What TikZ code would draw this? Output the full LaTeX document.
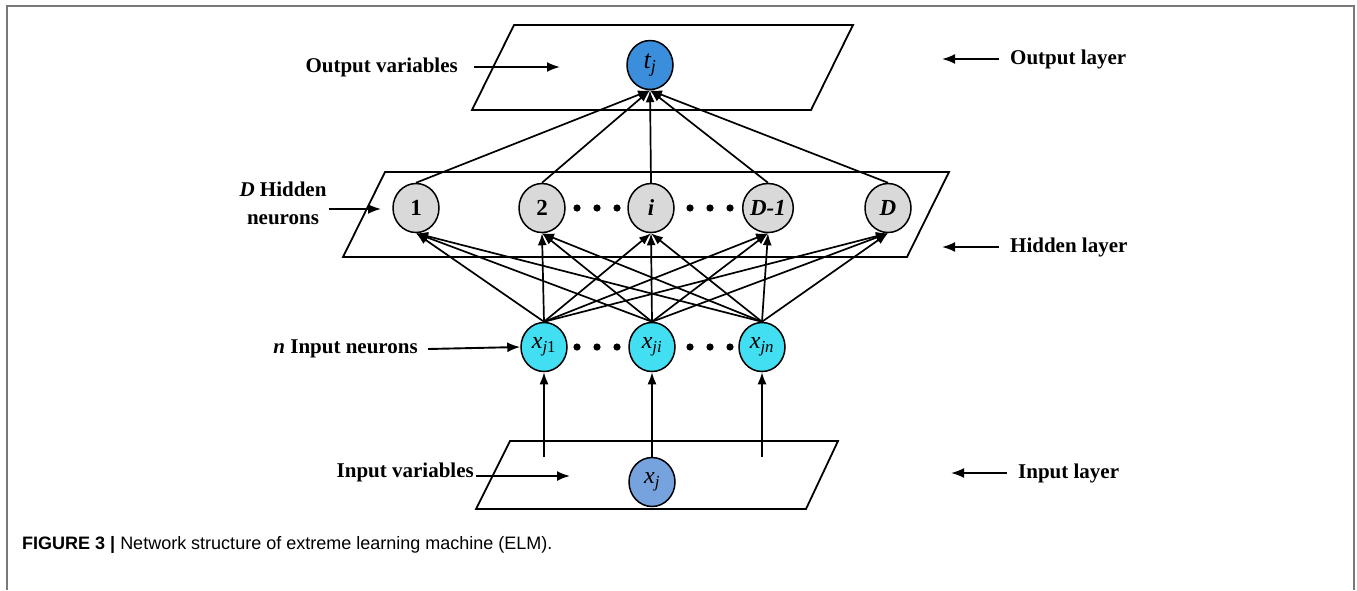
\documentclass[tikz,border=0pt]{standalone}
\usepackage{fontspec}
\setmainfont{Liberation Serif}
\newfontfamily\capfont{Liberation Sans}
\usetikzlibrary{arrows.meta,shapes.geometric}
\definecolor{outblue}{RGB}{59,142,220}
\definecolor{hidgray}{RGB}{217,217,217}
\definecolor{incyan}{RGB}{66,222,242}
\definecolor{varblue}{RGB}{118,163,222}
\definecolor{framegray}{RGB}{120,120,120}
\newcommand{\lblfont}{\fontsize{21}{28}\selectfont}
\newcommand{\neufont}{\fontsize{24}{24}\selectfont\itshape}
\tikzset{
  neuron/.style={draw,ellipse,line width=1.5pt,minimum width=46pt,minimum height=49pt,inner sep=0pt},
  plane/.style={draw,line width=1.8pt,line join=miter},
  link/.style={line width=1.7pt,-{Latex[length=12pt,width=9pt]}},
  pointer/.style={line width=1.9pt,-{Latex[length=13pt,width=10pt]}}
}

\begin{document}
\begin{tikzpicture}[x=1pt,y=-1pt,every node/.style={font=\lblfont\bfseries,inner sep=2pt}]
\useasboundingbox (0,0) rectangle (1357,590);
\draw[framegray,line width=2pt] (7,590) -- (7,6) -- (1354,6) -- (1354,590);

% the three layers
\draw[plane] (514,25) -- (853,25) -- (811,110) -- (472,110) -- cycle;
\draw[plane] (385,172) -- (949,172) -- (907,257) -- (343,257) -- cycle;
\draw[plane] (510,441) -- (838,441) -- (806,509) -- (476,509) -- cycle;

% neurons
\node (tj) at (650,65) [neuron,fill=outblue,font=\fontsize{26}{26}\selectfont\itshape] {t\textsubscript{j}};
\foreach \n/\x/\t in {h1/416/1,h2/542/2,hi/651/\textit{i},hD1/768/\textit{D-1},hD/888/\textit{D}}
  \node (\n) at (\x,208) [neuron,fill=hidgray,font=\fontsize{23}{23}\selectfont\bfseries] {\t};
\node (x1) at (544,347) [neuron,fill=incyan,font=\neufont] {x\textsubscript{j\upshape 1}};
\node (xi) at (652,347) [neuron,fill=incyan,font=\neufont] {x\textsubscript{ji}};
\node (xn) at (762,347) [neuron,fill=incyan,font=\neufont] {x\textsubscript{jn}};
\node (xj) at (652,482) [neuron,fill=varblue,font=\neufont] {x\textsubscript{j}};

\foreach \x in {577,597,617,690,710,730} {
  \fill (\x,208) circle (3.6pt);
  \fill (\x,347) circle (3.6pt);
}

% connections
\foreach \a in {x1,xi,xn}
  \foreach \b in {h1,h2,hi,hD1,hD}
    \draw[link] (\a.north) -- (\b.south);
\foreach \b in {h1,h2,hi,hD1,hD}
  \draw[link] (\b.north) -- (tj.south);
\coordinate (s1) at (544,457);
\coordinate (sn) at (762,457);
\draw[link] (s1) -- (x1.south);
\draw[link] (xj.north) -- (xi.south);
\draw[link] (sn) -- (xn.south);

% labels on the left
\node (outvar) at (460,67) [anchor=east] {Output variables};
\coordinate (outvarend) at (560,67);
\draw[pointer] ([xshift=14pt]outvar.east) -- (outvarend);
\node (hidlbl) at (283,203) [align=center] {\textit{D} Hidden\\neurons};
\coordinate (hidend) at (381,209);
\draw[pointer] (hidend -| hidlbl.east) -- (hidend);
\node (inneu) at (420,349) [anchor=east] {\textit{n} Input neurons};
\draw[pointer] ([xshift=8pt]inneu.east) -- (x1.west);
\node (invar) at (476,472) [anchor=east] {Input variables};
\coordinate (invarend) at (570,476);
\draw[pointer] (invarend -| invar.east) -- (invarend);

% labels on the right
\node (outlayer) at (1008,59) [anchor=west] {Output layer};
\coordinate (outlayerend) at (942,59);
\draw[pointer] ([xshift=-9pt]outlayer.west) -- (outlayerend);
\node (hidlayer) at (1008,247) [anchor=west] {Hidden layer};
\coordinate (hidlayerend) at (942,247);
\draw[pointer] ([xshift=-9pt]hidlayer.west) -- (hidlayerend);
\node (inlayer) at (1016,473) [anchor=west] {Input layer};
\coordinate (inlayerend) at (951,473);
\draw[pointer] ([xshift=-9pt]inlayer.west) -- (inlayerend);

\node (caption) at (22,549) [anchor=base west,inner sep=0pt,font=\capfont\fontsize{18}{20}\selectfont]
  {\textbf{FIGURE 3 |} Network structure of extreme learning machine (ELM).};
\end{tikzpicture}
\end{document}
